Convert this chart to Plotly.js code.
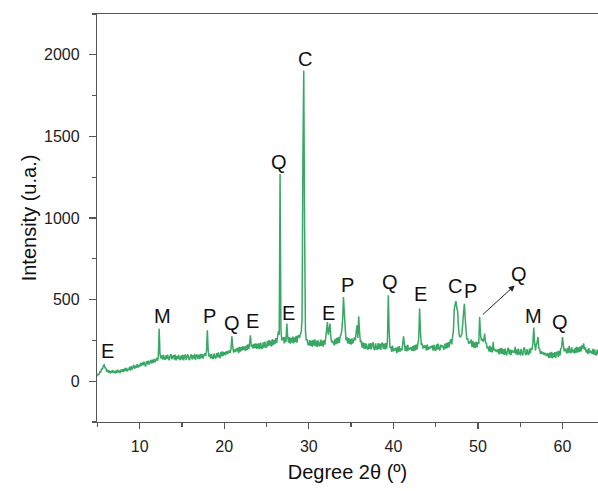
<!DOCTYPE html>
<html>
<head>
<meta charset="utf-8">
<script src="https://cdn.plot.ly/plotly-3.0.1.min.js"></script>
<style>html,body{margin:0;padding:0;background:#fff;}#chart{width:598px;height:491px;}</style>
</head>
<body>
<div id="chart"></div>
<script>
// 2θ sampling: start and step of the scan (one intensity value per step)
const scanStart = 5.0;
const scanStep = 0.1;

// Intensity, one row per degree (x.0 … x.9)
const intensity05_14 = [
  30, 48, 40, 62, 55, 78, 72, 95, 100, 82,
  80, 58, 70, 52, 66, 48, 63, 50, 68, 54,
  62, 47, 66, 52, 70, 55, 61, 49, 72, 58,
  74, 56, 78, 63, 82, 60, 77, 68, 88, 65,
  92, 72, 86, 100, 76, 95, 82, 104, 84, 99,
  88, 112, 94, 115, 97, 120, 101, 90, 123, 104,
  126, 102, 118, 130, 108, 132, 112, 137, 116, 128,
  142, 125, 150, 322, 168, 140, 158, 132, 162, 138,
  131, 158, 136, 162, 140, 128, 157, 165, 135, 150,
  160, 132, 163, 128, 154, 135, 161, 138, 130, 158
];
const intensity15_24 = [
  134, 162, 128, 156, 160, 131, 155, 164, 137, 130,
  155, 165, 133, 160, 138, 167, 130, 158, 163, 136,
  162, 135, 168, 142, 165, 138, 160, 170, 155, 182,
  312, 190, 150, 165, 138, 168, 142, 136, 170, 145,
  140, 172, 146, 176, 150, 141, 179, 152, 182, 155,
  178, 160, 182, 165, 185, 170, 188, 174, 200, 275,
  215, 175, 195, 178, 200, 184, 205, 172, 210, 182,
  208, 188, 215, 192, 212, 185, 220, 190, 225, 196,
  235, 281, 212, 224, 200, 228, 204, 232, 198, 230,
  200, 232, 196, 236, 205, 198, 238, 206, 242, 210
];
const intensity25_34 = [
  205, 245, 215, 252, 218, 248, 212, 258, 222, 254,
  228, 264, 235, 272, 305, 285, 1270, 320, 250, 262,
  268, 232, 272, 240, 353, 275, 236, 270, 230, 266,
  236, 274, 232, 268, 240, 278, 236, 275, 282, 265,
  288, 300, 380, 1365, 1903, 944, 310, 250, 258, 226,
  220, 252, 216, 248, 212, 252, 218, 256, 214, 248,
  210, 250, 220, 214, 255, 216, 248, 212, 252, 224,
  270, 310, 363, 285, 310, 353, 275, 238, 250, 234,
  220, 260, 226, 266, 230, 270, 234, 275, 285, 310,
  380, 516, 416, 330, 250, 270, 232, 264, 228, 260
];
const intensity35_44 = [
  224, 262, 230, 250, 268, 250, 300, 343, 265, 398,
  300, 240, 244, 206, 238, 200, 234, 196, 230, 202,
  194, 230, 198, 234, 195, 228, 238, 199, 190, 232,
  200, 194, 234, 197, 230, 192, 228, 236, 198, 230,
  195, 234, 200, 250, 526, 310, 204, 212, 180, 218,
  184, 200, 188, 205, 172, 210, 178, 215, 182, 200,
  188, 226, 275, 230, 186, 218, 183, 222, 189, 205,
  195, 210, 186, 216, 184, 221, 188, 226, 193, 230,
  262, 445, 310, 222, 232, 200, 218, 204, 220, 188,
  225, 192, 210, 198, 215, 203, 219, 187, 223, 193
];
const intensity45_54 = [
  190, 226, 194, 230, 197, 189, 224, 208, 220, 203,
  194, 230, 199, 235, 203, 240, 208, 244, 256, 226,
  270, 310, 440, 470, 491, 450, 430, 330, 280, 271,
  275, 290, 350, 420, 475, 380, 310, 255, 262, 228,
  244, 233, 256, 208, 247, 206, 238, 202, 242, 209,
  240, 228, 394, 290, 250, 260, 243, 252, 292, 238,
  232, 200, 212, 183, 218, 178, 210, 176, 240, 188,
  198, 182, 192, 178, 196, 164, 201, 169, 205, 166,
  197, 161, 200, 167, 158, 196, 204, 164, 194, 159,
  192, 176, 186, 173, 210, 165, 195, 160, 199, 167
];
const intensity55_64 = [
  163, 198, 169, 158, 196, 208, 166, 161, 197, 168,
  164, 200, 170, 204, 193, 230, 329, 240, 188, 224,
  237, 271, 203, 197, 166, 184, 168, 178, 162, 174,
  158, 170, 153, 172, 142, 175, 145, 180, 140, 173,
  146, 178, 143, 175, 182, 148, 187, 156, 197, 210,
  271, 225, 183, 200, 188, 170, 205, 174, 217, 178,
  172, 208, 177, 194, 170, 205, 174, 210, 176, 207,
  178, 214, 183, 220, 200, 232, 193, 208, 176, 194,
  166, 202, 172, 187, 180, 168, 198, 162, 195, 165,
  158, 194, 164, 180, 168, 186
];

// Phase labels: letter, 2θ, intensity at label centre
const labelText = ["E", "M", "P", "Q", "E", "Q", "C", "E", "E", "P", "Q", "E", "C", "P", "Q", "M", "Q"];
const labelX    = [6.2, 12.7, 18.3, 20.95, 23.3, 26.5, 29.5, 27.6, 32.3, 34.6, 39.6, 43.2, 47.3, 49.1, 54.8, 56.6, 59.7];
const labelY    = [185, 400, 400, 355, 370, 1345, 1975, 420, 420, 590, 605, 533, 585, 555, 655, 400, 360];

// Arrow pointing from the 50.2° peak to its "Q" label
const arrowHead = {x: 54.35, y: 587};
const arrowTail = {x: 50.4, y: 400};

const intensity = [].concat(intensity05_14, intensity15_24, intensity25_34,
                            intensity35_44, intensity45_54, intensity55_64);
const twoTheta = intensity.map((_, i) => +(scanStart + i * scanStep).toFixed(2));

const font = "Arial, 'Liberation Sans', sans-serif";

const annotations = labelText.map((t, i) => ({
  x: labelX[i], y: labelY[i], xref: 'x', yref: 'y',
  text: t, showarrow: false,
  font: {family: font, size: 20, color: '#111'},
  xanchor: 'center', yanchor: 'middle'
}));
annotations.push({
  x: arrowHead.x, y: arrowHead.y, xref: 'x', yref: 'y',
  ax: arrowTail.x, ay: arrowTail.y, axref: 'x', ayref: 'y',
  text: '', showarrow: true, arrowhead: 2, arrowsize: 1.2, arrowwidth: 1,
  arrowcolor: '#222', standoff: 0, startstandoff: 0
});

const data = [{
  x: twoTheta, y: intensity, type: 'scatter', mode: 'lines',
  line: {color: 'rgb(56,168,100)', width: 1.5, simplify: false},
  hoverinfo: 'skip'
}];

const axisCommon = {
  showline: true, linecolor: '#555', linewidth: 1.2,
  ticks: 'outside', tickcolor: '#555', tickwidth: 1.2,
  showgrid: false, zeroline: false,
  tickfont: {family: font, size: 16, color: '#222'}
};

const layout = {
  width: 598, height: 491,
  margin: {l: 97, r: 0, t: 14, b: 69},
  paper_bgcolor: '#fff', plot_bgcolor: '#fff',
  showlegend: false,
  xaxis: Object.assign({}, axisCommon, {
    range: [4.95, 64.2], dtick: 10, tick0: 0, ticklen: 6,
    mirror: true,
    minor: {dtick: 5, tick0: 0, ticklen: 4, ticks: 'outside', tickcolor: '#555', tickwidth: 1.2},
    ticklabelstandoff: 4,
    title: {text: 'Degree 2θ (º)', font: {family: font, size: 20, color: '#111'}, standoff: 10}
  }),
  yaxis: Object.assign({}, axisCommon, {
    range: [-250, 2250], dtick: 500, tick0: 0, ticklen: 7,
    minor: {dtick: 250, tick0: 0, ticklen: 4, ticks: 'outside', tickcolor: '#555', tickwidth: 1.2},
    ticklabelstandoff: 6,
    title: {text: 'Intensity (u.a.)', font: {family: font, size: 20, color: '#111'}, standoff: 2}
  }),
  annotations: annotations
};

Plotly.newPlot('chart', data, layout, {staticPlot: true, displayModeBar: false});
</script>
</body>
</html>
